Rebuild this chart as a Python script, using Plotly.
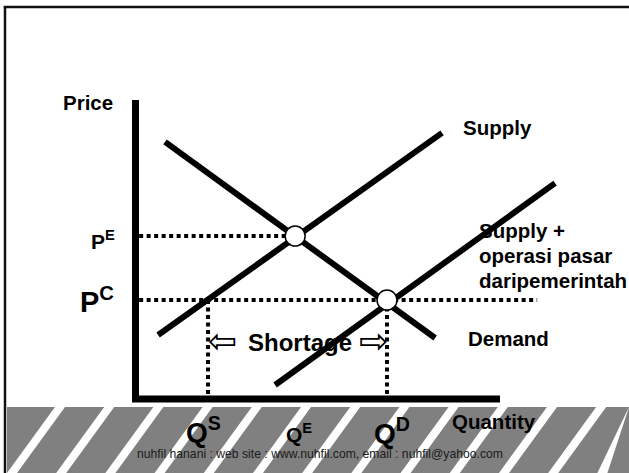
import plotly.graph_objects as go

W, H = 629, 473

# ---------------- data (quantity / price units) ----------------
supply_q = [0.62, 8.41]
supply_p = [2.14, 8.90]
demand_q = [0.81, 8.22]
demand_p = [8.60, 2.04]
supply_gov_q = [3.83, 11.51]
supply_gov_p = [0.47, 7.22]

point_labels = ["E", "C"]
point_q = [4.38, 6.90]
point_p = [5.45, 3.31]

P_E, P_C = 5.45, 3.31
Q_S, Q_E, Q_D = 1.99, 4.38, 6.90
Q_MAX, P_MAX = 10.0, 10.0
PC_LINE_END = 11.02

gov_label_lines = ["Supply +", "operasi pasar", "daripemerintah"]

# ---------------- scale (data units <-> page) ----------------
ORIG_X, ORIG_Y = 135.5, 399.0   # page position of the origin
SX, SY = 36.45, 29.9            # pixels per unit
x_range = [-ORIG_X / SX, (W - ORIG_X) / SX]
y_range = [(ORIG_Y - H) / SY, ORIG_Y / SY]


def px_paper(px, py):
    return px / W, 1 - py / H


FONT = "Liberation Sans, Arial, sans-serif"
fig = go.Figure()

# dotted guide lines
dot = dict(color="black", width=4, dash="4px,3.5px")
fig.add_trace(go.Scatter(x=[0.1, Q_E], y=[P_E, P_E], mode="lines", line=dot))
fig.add_trace(go.Scatter(x=[0.1, PC_LINE_END], y=[P_C, P_C], mode="lines", line=dot))
fig.add_trace(go.Scatter(x=[Q_S, Q_S], y=[P_C, 0.12], mode="lines", line=dot))
fig.add_trace(go.Scatter(x=[Q_D, Q_D], y=[P_C, 0.12], mode="lines", line=dot))

# text that sits beneath the curves
fig.add_trace(go.Scatter(
    x=[(479 - ORIG_X) / SX] * 3,
    y=[(ORIG_Y - py) / SY for py in (233, 258, 283)], mode="text",
    text=gov_label_lines, textposition="middle right",
    textfont=dict(family=FONT, size=20.5, color="black", weight="bold")))
fig.add_trace(go.Scatter(
    x=[(300 - ORIG_X) / SX], y=[(ORIG_Y - 345) / SY], mode="text",
    text=["Shortage"], textposition="middle center",
    textfont=dict(family=FONT, size=24, color="black", weight="bold")))

# axes
fig.add_trace(go.Scatter(x=[0, 0, Q_MAX], y=[P_MAX, 0, 0], mode="lines",
                         line=dict(color="black", width=7)))

# curves
curve = dict(color="black", width=6)
fig.add_trace(go.Scatter(x=supply_q, y=supply_p, mode="lines", line=curve))
fig.add_trace(go.Scatter(x=demand_q, y=demand_p, mode="lines", line=curve))
fig.add_trace(go.Scatter(x=supply_gov_q, y=supply_gov_p, mode="lines", line=curve))

# equilibrium points
fig.add_trace(go.Scatter(x=point_q, y=point_p, mode="markers", text=point_labels,
                         marker=dict(size=20, color="white",
                                     line=dict(color="black", width=1.5))))

# ---------------- decoration: frame + striped band ----------------
shapes = []
bx0, by0 = px_paper(7, 407)
bx1, by1 = px_paper(W, H)
shapes.append(dict(type="rect", xref="paper", yref="paper", x0=bx0, y0=by1, x1=bx1, y1=by0,
                   fillcolor="#808080", line=dict(width=0), layer="below"))
c = 60.0
while c < W + 60:
    pts = [(c - 5, 407), (c + 5, 407), (c + 5 - 48, 473), (c - 5 - 48, 473)]
    pts = [(min(W, max(7, x)), y) for x, y in pts]
    path = "M " + " L ".join(f"{x / W:.5f},{1 - y / H:.5f}" for x, y in pts) + " Z"
    shapes.append(dict(type="path", xref="paper", yref="paper", path=path,
                       fillcolor="white", line=dict(width=0), layer="below"))
    c += 49.2
# frame
shapes.append(dict(type="line", xref="paper", yref="paper",
                   x0=5 / W, x1=5 / W, y0=0, y1=1 - 6 / H, line=dict(color="#111", width=2.5)))
shapes.append(dict(type="line", xref="paper", yref="paper",
                   x0=3.8 / W, x1=1, y0=1 - 7 / H, y1=1 - 7 / H, line=dict(color="#111", width=2.5)))

# ---------------- labels ----------------
ann = []


def label(text, px, py, size, xanchor="center", bold=True, color="black", align="center"):
    x, y = px_paper(px, py)
    ann.append(dict(text=text, x=x, y=y, xref="paper", yref="paper", xanchor=xanchor,
                    yanchor="middle", showarrow=False, align=align,
                    font=dict(family=FONT, size=size, color=color,
                              weight="bold" if bold else "normal")))


label("Price", 88, 102, 20.5)
label("Supply", 461, 128, 20.5, xanchor="left")
label("Demand", 466, 338, 20.5, xanchor="left")
label("Quantity", 494, 421, 20.5)
label("P<sup>E</sup>", 103, 240, 21)
label("P<sup>C</sup>", 97, 300, 29)
label("Q<sup>S</sup>", 203, 430, 28)
label("Q<sup>E</sup>", 299, 433, 21)
label("Q<sup>D</sup>", 392, 431, 28)
label("nuhfil hanani : web site : www.nuhfil.com, email : nuhfil@yahoo.com", 320, 454, 12.2,
      bold=False, color="#1a1a1a")
# outlined shortage arrows
for sym, px in (("\u21e6", 222), ("\u21e8", 373)):
    x, y = px_paper(px, 341)
    ann.append(dict(text=sym, x=x, y=y, xref="paper", yref="paper", showarrow=False,
                    xanchor="center", yanchor="middle",
                    font=dict(family="DejaVu Sans", size=35, color="black")))

fig.update_layout(
    width=W, height=H, margin=dict(l=0, r=0, t=0, b=0),
    paper_bgcolor="white", plot_bgcolor="white", showlegend=False,
    xaxis=dict(range=x_range, visible=False, fixedrange=True),
    yaxis=dict(range=y_range, visible=False, fixedrange=True),
    shapes=shapes, annotations=ann,
)

fig.write_html("out.html", config={"displayModeBar": False},
               post_script="document.body.style.margin='0';document.body.style.overflow='hidden';")
